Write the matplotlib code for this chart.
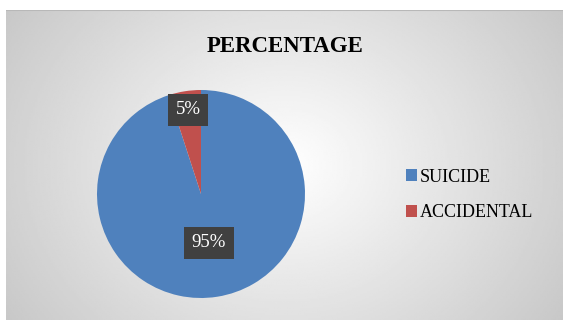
import numpy as np
import matplotlib.pyplot as plt

categories = ["SUICIDE", "ACCIDENTAL"]
values = [95, 5]
colors = ["#4f81bd", "#c0504d"]

plt.rcParams["font.family"] = ["Liberation Serif", "DejaVu Serif"]

fig = plt.figure(figsize=(5.63, 3.2), dpi=100)

# gradient background of the chart area
bg = fig.add_axes([6 / 563, 0, 557 / 563, 1 - 10 / 320])
yy, xx = np.mgrid[-1:1:200j, -1:1:300j]
r = np.sqrt((xx * 0.9) ** 2 + (yy * 0.6) ** 2)
grad = 1.0 - 0.2 * np.clip(r, 0, 1.3)
bg.imshow(grad, cmap="gray", vmin=0, vmax=1, aspect="auto", extent=[0, 1, 0, 1])
bg.axis("off")
bg.plot([0, 1], [1, 1], color="#b8b8b8", lw=1.5, transform=bg.transAxes)

# pie
ax = fig.add_axes([97 / 563, 1 - 298 / 320, 208 / 563, 208 / 320])
wedges, _ = ax.pie(values, colors=colors, startangle=90, counterclock=False,
                   wedgeprops=dict(linewidth=0))
ax.set_xlim(-1, 1)
ax.set_ylim(-1, 1)
ax.set_aspect("equal")

box = dict(boxstyle="square,pad=0.4", fc="#404040", ec="none")
ax.text(-0.125, 0.81, f"{values[1]}%", color="white", fontsize=13.5,
        ha="center", va="center", bbox=box)
ax.text(0.077, -0.47, f"{values[0]}%", color="white", fontsize=13.5,
        ha="center", va="center", bbox=box)

fig.text(285 / 563, 1 - 46 / 320, "PERCENTAGE", fontsize=16.5, fontweight="bold",
         ha="center", va="center")

fig.legend(wedges, categories, loc="center left",
           bbox_to_anchor=(390 / 563, 1 - 195 / 320), frameon=False,
           fontsize=13, handlelength=0.6, handleheight=0.6, handletextpad=0.15,
           labelspacing=1.05)

fig.savefig("out.png", dpi=100)
